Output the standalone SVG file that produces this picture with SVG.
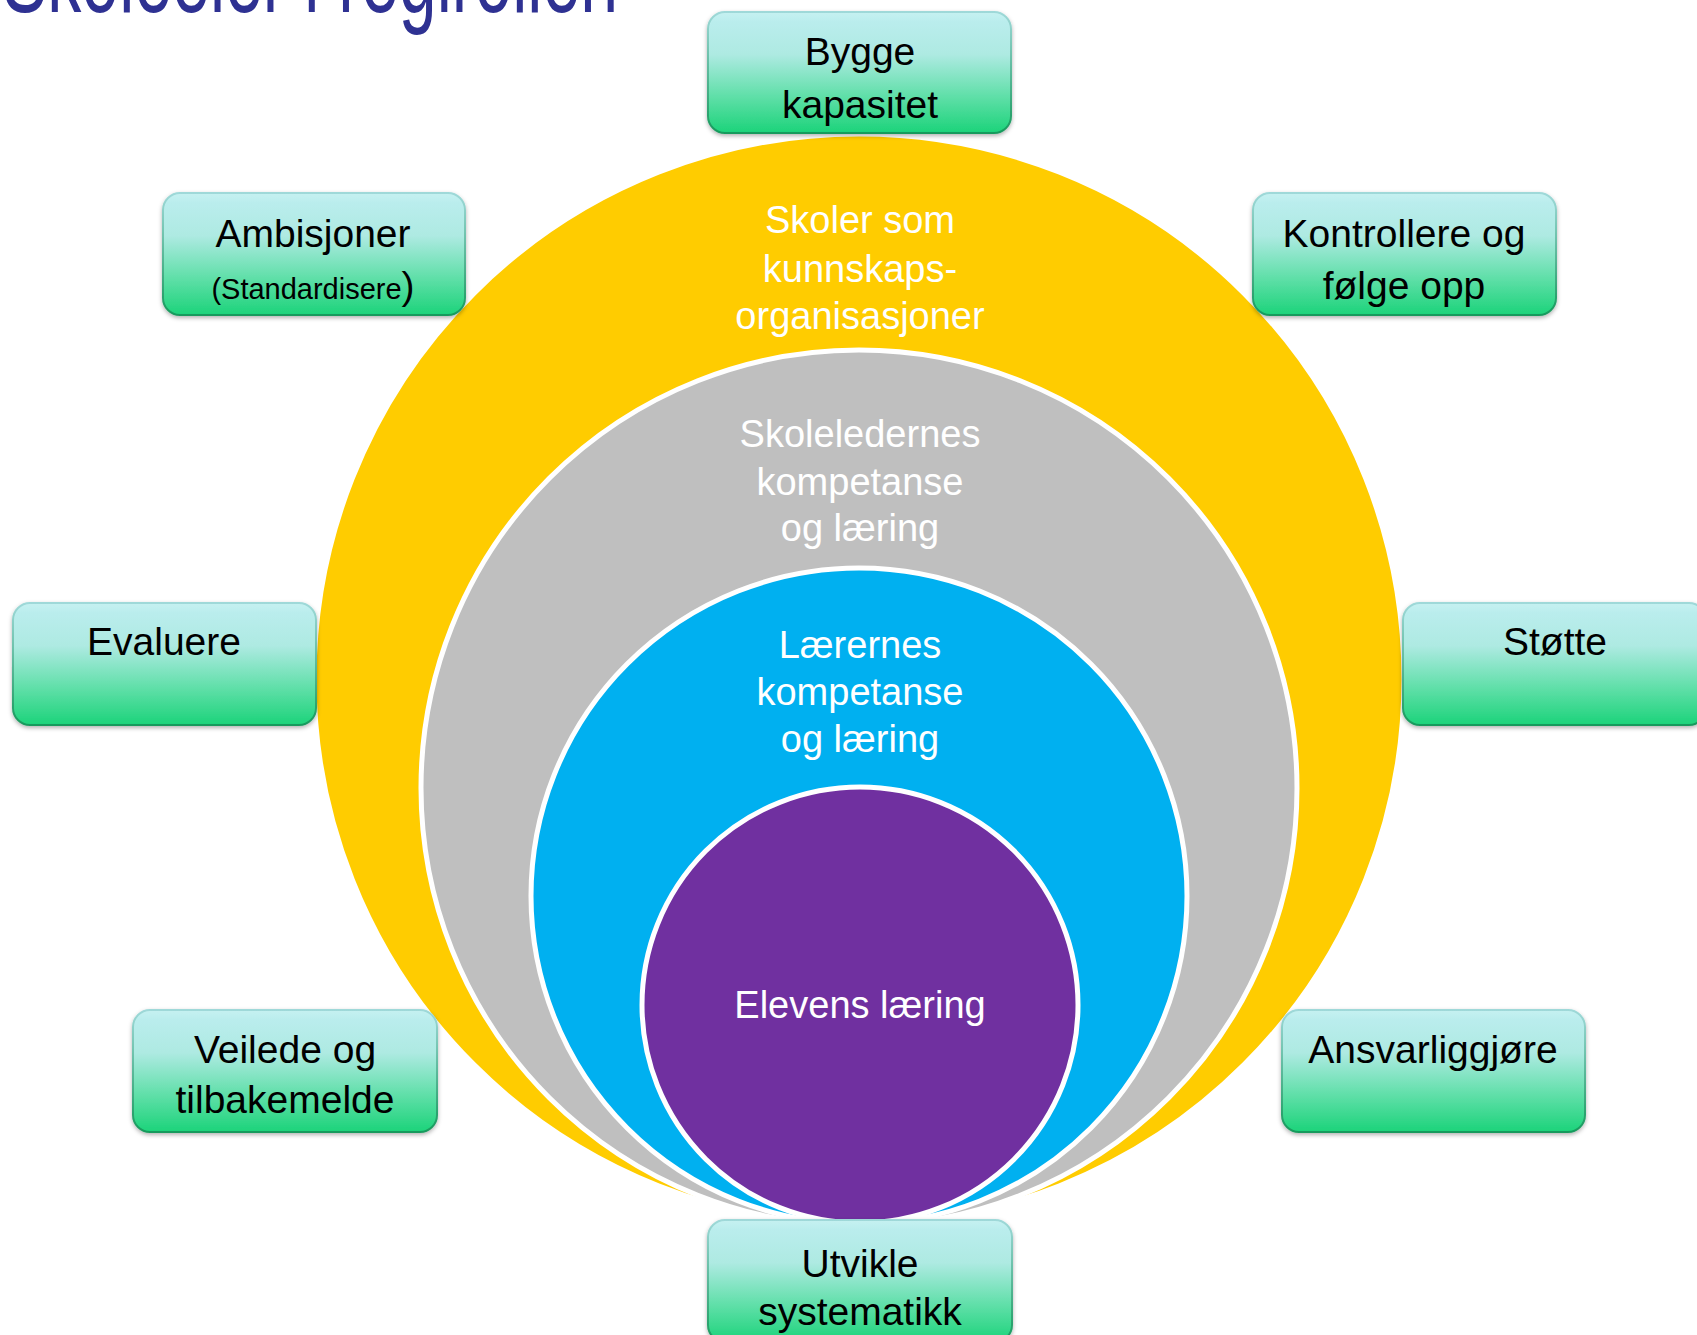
<svg xmlns="http://www.w3.org/2000/svg" width="1697" height="1335" viewBox="0 0 1697 1335">
<defs>
<linearGradient id="boxGrad" x1="0" y1="0" x2="0" y2="1">
<stop offset="0" stop-color="#C6F1F1"/>
<stop offset="0.08" stop-color="#BAEDED"/>
<stop offset="0.35" stop-color="#AEEAE2"/>
<stop offset="0.7" stop-color="#5FDFA8"/>
<stop offset="1" stop-color="#1CD37A"/>
</linearGradient>
<linearGradient id="strokeGrad" x1="0" y1="0" x2="0" y2="1">
<stop offset="0" stop-color="#9FD9D9"/>
<stop offset="1" stop-color="#179A5C"/>
</linearGradient>
<filter id="shadow" x="-10%" y="-10%" width="120%" height="130%">
<feDropShadow dx="0" dy="2" stdDeviation="2" flood-color="#000" flood-opacity="0.3"/>
</filter>
</defs>
<style>
.box{fill:url(#boxGrad);stroke:url(#strokeGrad);stroke-width:2;filter:url(#shadow)}
.bt{font-family:"Liberation Sans",Arial,sans-serif;font-size:39px;fill:#000;text-anchor:middle}
.ct{font-family:"Liberation Sans",Arial,sans-serif;font-size:38px;fill:#fff;text-anchor:middle}
.ring{stroke:#fff;stroke-width:5}
</style>
<rect width="1697" height="1335" fill="#fff"/>
<text transform="translate(2,12) scale(1,1.6)" x="0" y="0" font-family="Liberation Sans, Arial, sans-serif" font-size="68" fill="#2E3192">Skoleeier i regirollen</text>
<g id="rings">
<g id="ring-skoler">
<circle class="ring" cx="859" cy="679" r="545" fill="#FFCC00"/>
<text class="ct" x="860" y="233">Skoler som</text>
<text class="ct" x="860" y="282">kunnskaps-</text>
<text class="ct" x="860" y="329">organisasjoner</text>
</g>
<g id="ring-skoleledere">
<circle class="ring" cx="859" cy="788" r="438" fill="#BFBFBF"/>
<text class="ct" x="860" y="447">Skoleledernes</text>
<text class="ct" x="860" y="495">kompetanse</text>
<text class="ct" x="860" y="541">og læring</text>
</g>
<g id="ring-laerere">
<circle class="ring" cx="859" cy="896" r="328" fill="#00B0F0"/>
<text class="ct" x="860" y="658">Lærernes</text>
<text class="ct" x="860" y="705">kompetanse</text>
<text class="ct" x="860" y="752">og læring</text>
</g>
<g id="ring-elever">
<circle class="ring" cx="860" cy="1005" r="218" fill="#7030A0"/>
<text class="ct" x="860" y="1018">Elevens læring</text>
</g>
</g>
<g id="connectors"></g>
<g id="node-bygge">
<rect class="box" x="708" y="12" width="303" height="121" rx="17"/>
<text class="bt" x="860" y="65">Bygge</text>
<text class="bt" x="860" y="118">kapasitet</text>
</g>
<g id="node-ambisjoner">
<rect class="box" x="163" y="193" width="302" height="122" rx="17"/>
<text class="bt" x="313" y="247">Ambisjoner</text>
<text class="bt" x="313" y="299"><tspan font-size="29">(Standardisere</tspan>)</text>
</g>
<g id="node-kontrollere">
<rect class="box" x="1253" y="193" width="303" height="122" rx="17"/>
<text class="bt" x="1404" y="247">Kontrollere og</text>
<text class="bt" x="1404" y="299">følge opp</text>
</g>
<g id="node-evaluere">
<rect class="box" x="13" y="603" width="303" height="122" rx="17"/>
<text class="bt" x="164" y="655">Evaluere</text>
</g>
<g id="node-stotte">
<rect class="box" x="1403" y="603" width="303" height="122" rx="17"/>
<text class="bt" x="1555" y="655">Støtte</text>
</g>
<g id="node-veilede">
<rect class="box" x="133" y="1010" width="304" height="122" rx="17"/>
<text class="bt" x="285" y="1063">Veilede og</text>
<text class="bt" x="285" y="1113">tilbakemelde</text>
</g>
<g id="node-ansvarliggjore">
<rect class="box" x="1282" y="1010" width="303" height="122" rx="17"/>
<text class="bt" x="1433" y="1063">Ansvarliggjøre</text>
</g>
<g id="node-utvikle">
<rect class="box" x="708" y="1220" width="304" height="122" rx="17"/>
<text class="bt" x="860" y="1277">Utvikle</text>
<text class="bt" x="860" y="1325">systematikk</text>
</g>
</svg>
